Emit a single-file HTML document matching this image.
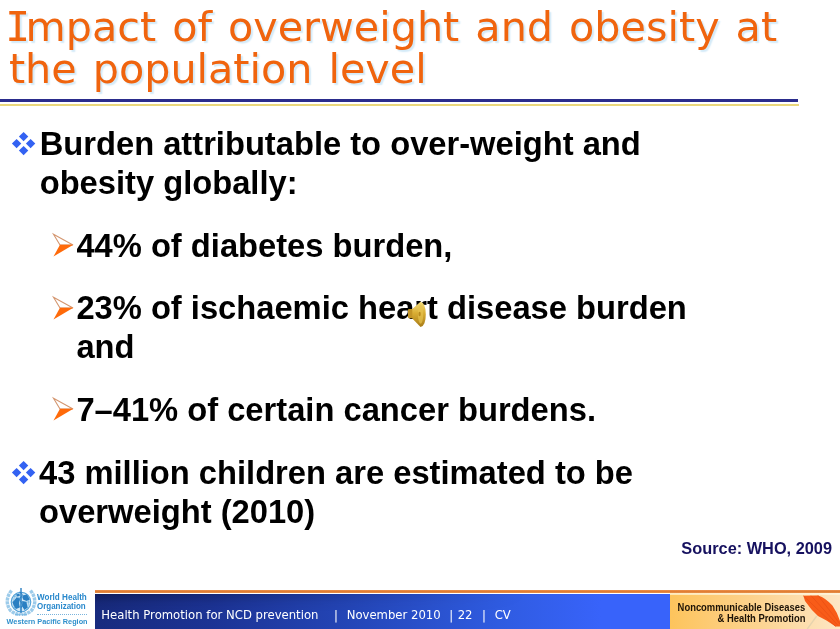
<!DOCTYPE html>
<html><head><meta charset="utf-8">
<style>
html,body{margin:0;padding:0;}
body{width:840px;height:629px;position:relative;overflow:hidden;background:#fff;font-family:"Liberation Sans",sans-serif;}
.abs{position:absolute;white-space:nowrap;}
.title{font-family:"DejaVu Sans","Liberation Sans",sans-serif;color:#f0640e;font-size:41.3px;line-height:42.5px;left:8.9px;top:5.9px;word-spacing:2.9px;text-shadow:2px 2px 1.5px #d3eaf8;letter-spacing:0px;}
.b1{font-weight:bold;font-size:32.7px;line-height:39px;color:#000;}
.src{font-weight:bold;font-size:16.33px;color:#16115f;}
.foot{font-family:"DejaVu Sans","Liberation Sans",sans-serif;color:#fff;font-size:11.67px;}
svg{position:absolute;overflow:visible;}
.ncd{font-weight:bold;font-size:11.3px;color:#1c1206;transform:scaleX(0.833);transform-origin:100% 50%;}
.who{font-weight:bold;color:#2888cc;transform-origin:0 50%;}
</style></head><body>
<div class="abs title"><span style="font-family:'DejaVu Sans Mono','Liberation Mono',monospace;margin:0 -4.7px 0 -3.6px">I</span>mpact of overweight and obesity at<br>the population level</div>
<div class="abs" style="left:0;top:98.8px;width:798.4px;height:3.1px;background:#2a2c8c"></div>
<div class="abs" style="left:0;top:104px;width:799.3px;height:2.2px;background:#ead77c"></div>

<svg style="left:11.5px;top:131.8px" width="23.2" height="23.2" viewBox="0 0 23.2 23.2"><g fill="#3362f2"><path d="M11.6 -0.1L16.3 4.6 11.6 9.3 6.9 4.6Z"/><path d="M11.6 13.9L16.3 18.6 11.6 23.3 6.9 18.6Z"/><path d="M4.6 6.9L9.3 11.6 4.6 16.3 -0.1 11.6Z"/><path d="M18.6 6.9L23.3 11.6 18.6 16.3 13.9 11.6Z"/></g></svg>
<svg style="left:11.5px;top:461px" width="23.2" height="23.2" viewBox="0 0 23.2 23.2"><g fill="#3362f2"><path d="M11.6 -0.1L16.3 4.6 11.6 9.3 6.9 4.6Z"/><path d="M11.6 13.9L16.3 18.6 11.6 23.3 6.9 18.6Z"/><path d="M4.6 6.9L9.3 11.6 4.6 16.3 -0.1 11.6Z"/><path d="M18.6 6.9L23.3 11.6 18.6 16.3 13.9 11.6Z"/></g></svg>

<svg style="left:52.5px;top:234px" width="21" height="23" viewBox="0 0 21 23"><path d="M0.5 0.3L20 11 7 11Z" fill="#fff" stroke="#d4966f" stroke-width="1.1"/><path d="M20.3 10.8L0.5 22.5 7 10.8Z" fill="#ff6a0a"/></svg>
<svg style="left:52.5px;top:296.5px" width="21" height="23" viewBox="0 0 21 23"><path d="M0.5 0.3L20 11 7 11Z" fill="#fff" stroke="#d4966f" stroke-width="1.1"/><path d="M20.3 10.8L0.5 22.5 7 10.8Z" fill="#ff6a0a"/></svg>
<svg style="left:52.5px;top:398.3px" width="21" height="23" viewBox="0 0 21 23"><path d="M0.5 0.3L20 11 7 11Z" fill="#fff" stroke="#d4966f" stroke-width="1.1"/><path d="M20.3 10.8L0.5 22.5 7 10.8Z" fill="#ff6a0a"/></svg>

<div class="abs b1" style="left:39.7px;top:123.9px;">Burden attributable to over-weight and<br>obesity globally:</div>
<div class="abs b1" style="left:76.4px;top:225.9px;">44% of diabetes burden,</div>
<div class="abs b1" style="left:76.4px;top:288.4px;">23% of ischaemic heart disease burden<br>and</div>
<div class="abs b1" style="left:76.4px;top:390px;">7–41% of certain cancer burdens.</div>
<div class="abs b1" style="left:39px;top:452.9px;">43 million children are estimated to be<br>overweight (2010)</div>
<svg style="left:405px;top:298px" width="24" height="32" viewBox="405 298 24 32"><defs><linearGradient id="gd" x1="0" y1="0" x2="0" y2="1"><stop offset="0" stop-color="#f3dc7a"/><stop offset="0.45" stop-color="#d9ad33"/><stop offset="1" stop-color="#a87c18"/></linearGradient></defs>
<rect x="408" y="309" width="6" height="9.2" rx="1" fill="#c39426"/>
<path d="M412.3 309 L420.5 301.8 Q425.8 303 425.8 314.3 Q425.8 326 420.5 327 L412.3 318.5Z" fill="url(#gd)"/>
<ellipse cx="420.6" cy="314.3" rx="2.6" ry="9.5" fill="#e6c24e" opacity="0.7"/>
<ellipse cx="419.6" cy="314" rx="1.1" ry="2.2" fill="#b88a1e"/>
</svg>
<div class="abs src" style="right:8px;top:538.9px;">Source: WHO, 2009</div>

<div class="abs" style="left:94.5px;top:590.45px;width:746px;height:2.3px;background:linear-gradient(180deg,#ee9450 0%,#e07e34 40%,#e07e34 75%,#eea060 100%)"></div>
<div class="abs" style="left:94.5px;top:594.4px;width:575.5px;height:35px;background:linear-gradient(90deg,#182b7e 0%,#1c3394 20%,#2446b8 45%,#2f5be0 70%,#3863fa 88%)"></div>
<div class="abs" style="left:94.5px;top:594.4px;width:575.5px;height:35px;background:linear-gradient(180deg,rgba(0,0,20,0.3) 0%,rgba(0,0,20,0.08) 25%,rgba(0,0,0,0) 50%);-webkit-mask-image:linear-gradient(90deg,#000 0%,transparent 75%);mask-image:linear-gradient(90deg,#000 0%,transparent 75%)"></div>
<div class="abs" style="left:670px;top:592.8px;width:170px;height:36.2px;background:linear-gradient(180deg,rgba(255,248,225,0.75) 0,rgba(255,248,225,0.75) 1.4px,rgba(255,255,255,0) 2.2px),linear-gradient(90deg,#fdc45c 0%,#fdd189 45%,#fde6c4 100%)"></div>
<div class="abs foot" style="left:101.3px;top:607.5px;">Health Promotion for NCD prevention</div>
<div class="abs foot" style="left:334px;top:607.5px;">|</div>
<div class="abs foot" style="left:346.7px;top:607.5px;">November 2010</div>
<div class="abs foot" style="left:449.2px;top:607.5px;">|</div>
<div class="abs foot" style="left:457.7px;top:607.5px;">22</div>
<div class="abs foot" style="left:481.9px;top:607.5px;">|</div>
<div class="abs foot" style="left:494.7px;top:607.5px;">CV</div>
<div class="abs ncd" style="right:34.4px;top:600.6px;">Noncommunicable Diseases</div>
<div class="abs ncd" style="right:34.4px;top:611.9px;">&amp; Health Promotion</div>
<svg style="left:790px;top:588px" width="50" height="41" viewBox="0 0 50 41"><path d="M26.7 28L17.3 41" stroke="#e6d3ae" stroke-width="1.3" fill="none"/><path d="M13.4 7.8 L28 7.4 Q36 10 42.4 17.6 Q47 24 50 33 L50 38.5 L45.6 38.5 L36.5 32.6 L28 28 L21.5 21.5 L15 13Z" fill="#f85c18"/><path d="M13.4 7.8L45.6 38.5M28 7.4L50 36M21 7.6L48 37.5" stroke="#e84e14" stroke-width="0.7" fill="none"/></svg>
<div class="abs who" style="left:36.6px;top:591.6px;font-size:9px;transform:scaleX(0.9);">World Health</div>
<div class="abs who" style="left:36.6px;top:601.4px;font-size:9px;transform:scaleX(0.885);">Organization</div>
<div class="abs" style="left:37px;top:614.2px;width:49.5px;border-top:1px dotted #7ab4dc"></div>
<div class="abs who" style="left:6.6px;top:616.9px;font-size:7.3px;color:#2f90cc">Western Pacific Region</div>
<svg style="left:5px;top:587px" width="32" height="29" viewBox="0 0 32 29">
<path d="M6.5 3.5 Q-1.5 14 5.5 23.5 Q9.5 27 15 27.3" fill="none" stroke="#9ccbea" stroke-width="3.4" stroke-dasharray="3.2 0.7"/>
<path d="M25.5 3.5 Q33.5 14 26.5 23.5 Q22.500 27 17 27.3" fill="none" stroke="#9ccbea" stroke-width="3.4" stroke-dasharray="3.2 0.7"/>
<circle cx="16" cy="15" r="9.8" fill="#d3e8f6" stroke="#4f9fd6" stroke-width="1.1"/>
<path d="M6.500 15H25.5M16 5.200V24.8M8.500 9Q16 12.500 23.500 9M8.500 21Q16 17.500 23.500 21M11 6.500Q6 15 11 23.500M21 6.500Q26 15 21 23.500" stroke="#5aa9dc" stroke-width="0.6" fill="none"/>
<path d="M7.500 15.500 L11.500 10.500 15 11.500 14 15.500 14.800 20.500 11 22 9 19Z M17.200 8.500 L22 7.500 24.800 12.500 21.500 14 18 12.500Z M17.200 14 L21.500 15 22.500 20.500 19.500 23 17.200 19.500Z M11 7.500 L14.500 6.500 14.800 9 12 9.500Z" fill="#2a7fc2"/>
<path d="M16 1V26.500" stroke="#2a7fc2" stroke-width="1.4"/>
<path d="M14.500 5 Q19 7 16 10 Q13 13 16.500 15.500 Q19 18 16 21" stroke="#2a7fc2" stroke-width="0.9" fill="none"/>
<path d="M10 27.800H22" stroke="#6fb3e0" stroke-width="1"/>
</svg>
</body></html>
